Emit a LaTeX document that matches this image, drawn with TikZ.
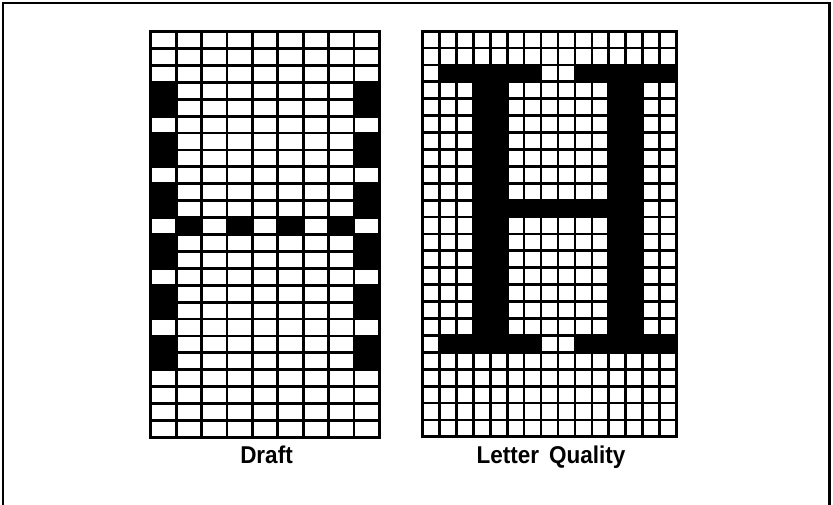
\documentclass[tikz,border=0pt]{standalone}
\usepackage{fontspec}
\setmainfont{Liberation Sans}
\newcommand\lcell[2]{\fill ({150.7+(#1-1)*25.42},{31.7+(#2-1)*16.9}) rectangle ++(25.42,16.9);}
\newcommand\rcell[2]{\fill ({422.3+(#1-1)*16.96},{31.2+(#2-1)*16.9}) rectangle ++(16.96,16.9);}
\begin{document}
\begin{tikzpicture}[x=1pt,y=-1pt,
  gridline/.style={line width=2.8pt,black},
  frameline/.style={line width=2.7pt,black},
  lbl/.style={font=\fontsize{22.5}{24}\selectfont\bfseries,anchor=base,inner sep=0pt,yscale=1.08}]
\useasboundingbox (0,0) rectangle (833,505);
% frame
\draw[frameline] (3,506) -- (3,3) -- (829.5,3) -- (829.5,506);
% ---------------- Draft grid: 9 x 24
\foreach \r in {4,5,7,8,10,11,13,14,16,17,19,20} {\lcell{1}{\r}\lcell{9}{\r}}
\foreach \c in {2,4,6,8} {\lcell{\c}{12}}
\foreach \i in {1,...,8} \draw[gridline] ({150.7+\i*25.42},31.7) -- ({150.7+\i*25.42},437.3);
\foreach \j in {1,...,23} \draw[gridline] (150.7,{31.7+\j*16.9}) -- (379.5,{31.7+\j*16.9});
\draw[gridline] (150.7,31.7) rectangle (379.5,437.3);
% ---------------- Letter quality grid: 15 x 24
\foreach \c in {2,...,7,10,11,12,13,14,15} {\rcell{\c}{3}\rcell{\c}{19}}
\foreach \r in {4,...,18} {\rcell{4}{\r}\rcell{5}{\r}\rcell{12}{\r}\rcell{13}{\r}}
\foreach \c in {6,...,11} {\rcell{\c}{11}}
\foreach \i in {1,...,14} \draw[gridline] ({422.3+\i*16.96},31.2) -- ({422.3+\i*16.96},436.8);
\foreach \j in {1,...,23} \draw[gridline] (422.3,{31.2+\j*16.9}) -- (676.7,{31.2+\j*16.9});
\draw[gridline] (422.3,31.2) rectangle (676.7,436.8);
% labels
\node[lbl] (draft) at (266.5,463) {Draft};
\node[lbl] (lq) at (551,463) {Letter\hspace{10pt}Quality};
\end{tikzpicture}
\end{document}
